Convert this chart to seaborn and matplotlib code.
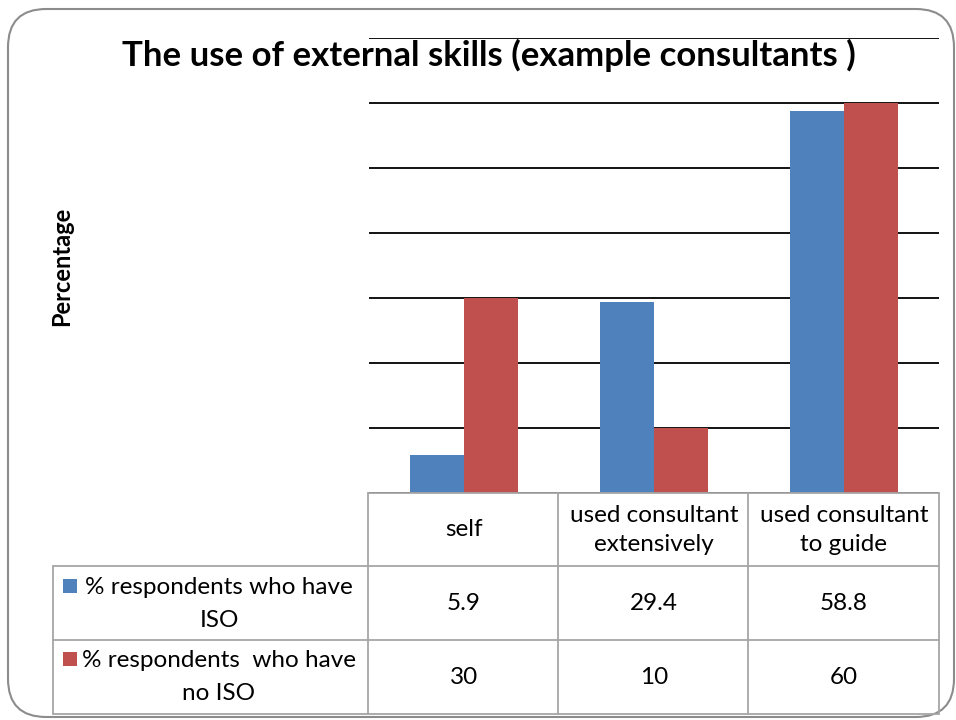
import matplotlib
matplotlib.use("Agg")
import matplotlib.pyplot as plt
import seaborn as sns
import pandas as pd
from matplotlib.patches import FancyBboxPatch, Rectangle
from matplotlib.transforms import blended_transform_factory
from matplotlib.lines import Line2D

categories = ["self", "used consultant\nextensively", "used consultant\nto guide"]
series_names = ["% respondents who have\nISO", "% respondents  who have\nno ISO"]
iso_values = [5.9, 29.4, 58.8]
no_iso_values = [30, 10, 60]
value_labels_iso = ["5.9", "29.4", "58.8"]
value_labels_no_iso = ["30", "10", "60"]
title = "The use of external skills (example consultants )"
ylabel = "Percentage"
colors = ["#4F81BD", "#C0504D"]

sns.set_style("white")
plt.rcParams['font.family'] = ['Lato', 'DejaVu Sans']
plt.rcParams['text.color'] = 'black'

df = pd.DataFrame({
    "category": categories * 2,
    "series": [series_names[0]] * 3 + [series_names[1]] * 3,
    "value": iso_values + no_iso_values,
})

W, H = 956, 720
fig = plt.figure(figsize=(W / 100, H / 100), dpi=100)

def fx(px):
    return px / W

def fy(py):
    return 1 - py / H

# rounded border
border = FancyBboxPatch((fx(8), fy(717)), fx(946), (717 - 9) / H,
                        boxstyle="round,pad=0,rounding_size=0.04",
                        transform=fig.transFigure, facecolor="white",
                        edgecolor="#8c8c8c", linewidth=1.5, zorder=-5,
                        mutation_aspect=W / H)
fig.patches.append(border)

x0, x1, ytop, ybot = 369, 939, 38, 493
ax = fig.add_axes([fx(x0), fy(ybot), fx(x1 - x0), (ybot - ytop) / H])
ax.set_facecolor("none")
ax.set_zorder(2)
sns.barplot(data=df, x="category", y="value", hue="series", order=categories,
            hue_order=series_names, palette=colors, width=108 / 190, gap=0,
            saturation=1, ax=ax, legend=False, edgecolor="none")
ax.set_xlim(-0.5, 2.5)
ax.set_ylim(0, 70)
ax.set_yticks(range(0, 71, 10))
ax.yaxis.grid(True, color="black", linewidth=1.3)
ax.xaxis.grid(False)
ax.set_axisbelow(True)
for s in ax.spines.values():
    s.set_visible(False)
ax.set_xticklabels([])
ax.set_yticklabels([])
ax.tick_params(length=0)
ax.set_xlabel("")
ax.set_ylabel("")

fig.text(fx(489), fy(55), title, ha="center", va="center",
         fontsize=25, fontweight="bold", color="black")
fig.text(fx(62), fy(266), ylabel, rotation=90, ha="center", va="center",
         fontsize=17, fontweight="bold", color="black")

# data table
gcol = "#a6a6a6"
lw = 1.3
def hline(xa, xb, y):
    fig.add_artist(Line2D([fx(xa), fx(xb)], [fy(y), fy(y)], color=gcol, lw=lw,
                          transform=fig.transFigure, zorder=3))
def vline(x, ya, yb):
    fig.add_artist(Line2D([fx(x), fx(x)], [fy(ya), fy(yb)], color=gcol, lw=lw,
                          transform=fig.transFigure, zorder=3))

hline(368, 939, 493)
hline(53, 939, 566)
hline(53, 939, 640)
hline(53, 939, 714)
vline(53, 566, 714)
for xv in [368, 558, 748, 939]:
    vline(xv, 493, 714)

tr = blended_transform_factory(ax.transData, fig.transFigure)
fs = 17.5
for i, cat in enumerate(categories):
    fig.text(i, fy(530), cat, transform=tr, ha="center", va="center",
             fontsize=fs, linespacing=1.5, color="black")
    fig.text(i, fy(603), value_labels_iso[i], transform=tr, ha="center",
             va="center", fontsize=fs, color="black")
    fig.text(i, fy(677), value_labels_no_iso[i], transform=tr, ha="center",
             va="center", fontsize=fs, color="black")

row_y = [604, 677]
for r, name in enumerate(series_names):
    fig.text(fx(219), fy(row_y[r]), name, ha="center", va="center",
             fontsize=fs, linespacing=1.75, color="black")
    fig.patches.append(Rectangle((fx(63), fy(row_y[r] - 11)), fx(14), 14 / H,
                                 transform=fig.transFigure, facecolor=colors[r],
                                 edgecolor="none", zorder=3))

fig.savefig("out.png", dpi=100)
